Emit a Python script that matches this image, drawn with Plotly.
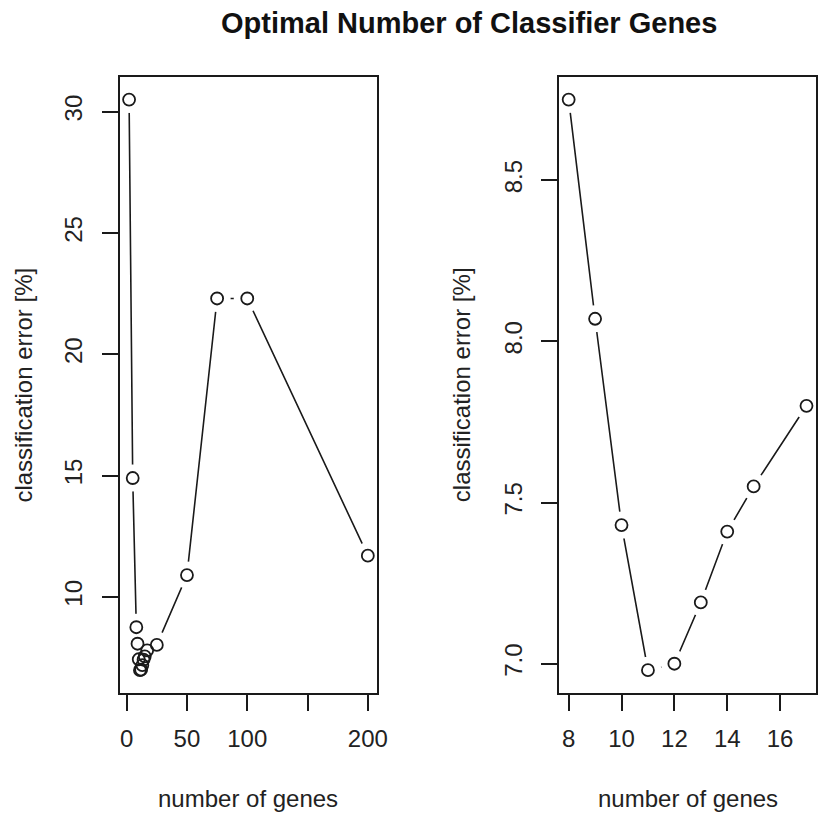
import plotly.graph_objects as go
import numpy as np

# ---- data ----
genes_all = [2, 5, 8, 9, 10, 11, 12, 13, 14, 15, 17, 25, 50, 75, 100, 200]
error_all = [30.5, 14.9, 8.75, 8.07, 7.43, 6.98, 7.00, 7.19, 7.41, 7.55, 7.80, 8.02, 10.9, 22.3, 22.3, 11.7]

genes_zoom = [8, 9, 10, 11, 12, 13, 14, 15, 17]
error_zoom = [8.75, 8.07, 7.43, 6.98, 7.00, 7.19, 7.41, 7.55, 7.80]

left_xticks = [0, 50, 100, 150, 200]
left_xticklabels = ["0", "50", "100", "", "200"]
left_yticks = [10, 15, 20, 25, 30]
right_xticks = [8, 10, 12, 14, 16]
right_yticks = [7.0, 7.5, 8.0, 8.5]
right_yticklabels = ["7.0", "7.5", "8.0", "8.5"]

title = "Optimal Number of Classifier Genes"
xlab = "number of genes"
ylab = "classification error [%]"

W, H = 827, 814
FONT = "Liberation Sans, Arial, Helvetica, sans-serif"


def rrange(v):
    lo, hi = min(v), max(v)
    d = (hi - lo) * 0.04
    return [lo - d, hi + d]


fig = go.Figure()


def add_panel(x, y, xa, ya):
    # connecting lines
    fig.add_trace(go.Scatter(x=x, y=y, mode="lines", xaxis=xa, yaxis=ya,
                             line=dict(color="#1a1a1a", width=1.6),
                             hoverinfo="skip", showlegend=False))
    # white gap discs (type="b" style)
    fig.add_trace(go.Scatter(x=x, y=y, mode="markers", xaxis=xa, yaxis=ya,
                             marker=dict(symbol="circle", size=27, color="white",
                                         line=dict(width=0)),
                             hoverinfo="skip", showlegend=False))
    # open circles
    fig.add_trace(go.Scatter(x=x, y=y, mode="markers", xaxis=xa, yaxis=ya,
                             marker=dict(symbol="circle-open", size=12, color="#1a1a1a",
                                         line=dict(width=1.8)),
                             showlegend=False))


add_panel(genes_all, error_all, "x", "y")
add_panel(genes_zoom, error_zoom, "x2", "y2")

ydom = [1 - 693 / H, 1 - 76.7 / H]
axis_common = dict(showline=True, linecolor="#1a1a1a", linewidth=1.6, mirror=True,
                   ticks="outside", ticklen=16, tickwidth=1.6, tickcolor="#1a1a1a",
                   showgrid=False, zeroline=False,
                   tickfont=dict(family=FONT, size=24, color="#222222"))

fig.update_layout(
    width=W, height=H,
    margin=dict(l=0, r=0, t=0, b=0),
    paper_bgcolor="white", plot_bgcolor="white",
    showlegend=False,
    xaxis=dict(domain=[121 / W, 382 / W], range=rrange(genes_all),
               tickvals=left_xticks, ticktext=left_xticklabels, anchor="y",
               ticklabelstandoff=7, **axis_common),
    yaxis=dict(domain=ydom, range=rrange(error_all), tickvals=left_yticks,
               tickangle=-90, anchor="x", ticklabelstandoff=10, **axis_common),
    xaxis2=dict(domain=[566 / W, 826 / W], range=rrange(genes_zoom),
                tickvals=right_xticks, anchor="y2", ticklabelstandoff=7, **axis_common),
    yaxis2=dict(domain=ydom, range=rrange(error_zoom), tickvals=right_yticks,
                ticktext=right_yticklabels, tickangle=-90, anchor="x2",
                ticklabelstandoff=10, **axis_common),
)

ann_font = dict(family=FONT, size=24, color="#222222")
yc = 1 - ((693 + 76.7) / 2) / H
annotations = [
    dict(text="<b>" + title + "</b>", x=475 / W, y=1 - 23 / H, xref="paper", yref="paper",
         showarrow=False, xanchor="center", yanchor="middle",
         font=dict(family=FONT, size=29, color="#111111")),
    dict(text=xlab, x=(121 + 382) / 2 / W, y=1 - 798 / H, xref="paper", yref="paper",
         showarrow=False, xanchor="center", yanchor="middle", font=ann_font),
    dict(text=xlab, x=(566 + 826) / 2 / W, y=1 - 798 / H, xref="paper", yref="paper",
         showarrow=False, xanchor="center", yanchor="middle", font=ann_font),
    dict(text=ylab, x=24 / W, y=yc, xref="paper", yref="paper", textangle=-90,
         showarrow=False, xanchor="center", yanchor="middle", font=ann_font),
    dict(text=ylab, x=468 / W, y=yc, xref="paper", yref="paper", textangle=-90,
         showarrow=False, xanchor="center", yanchor="middle", font=ann_font),
]
fig.update_layout(annotations=annotations)

fig.write_html("out.html")
